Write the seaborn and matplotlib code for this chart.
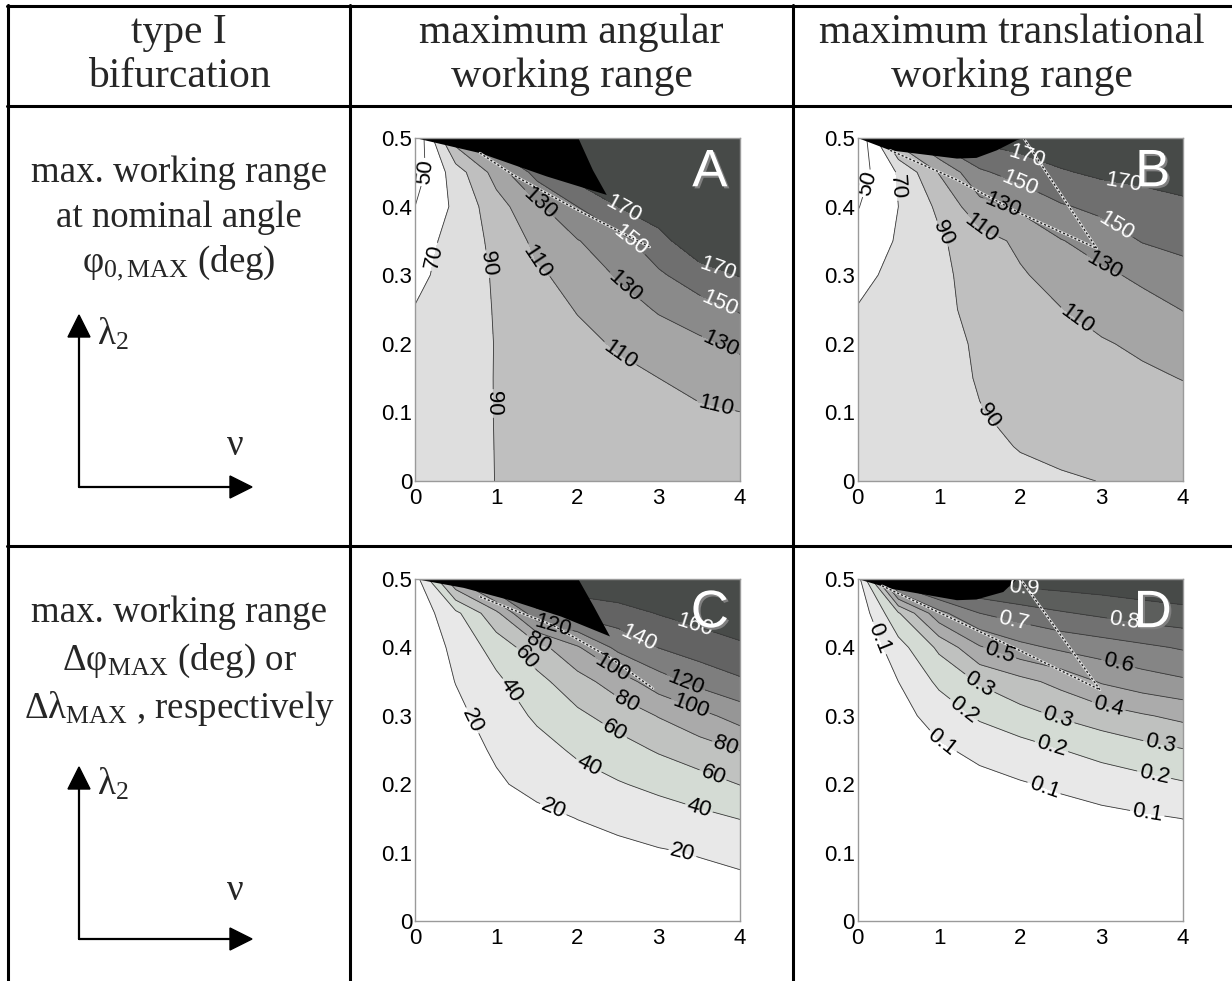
import numpy as np
import matplotlib
matplotlib.use("Agg")
import matplotlib.pyplot as plt
import matplotlib.patheffects as pe
from matplotlib.lines import Line2D
from matplotlib.patches import Polygon
import seaborn as sns

# ---------------- data ----------------
nu = [0, 0.5, 1, 1.5, 2, 2.5, 3, 3.5, 4]
lam2 = [0, 0.05, 0.1, 0.15, 0.2, 0.25, 0.3, 0.35, 0.4, 0.45, 0.5]

# A: max. working range at nominal angle, angular (deg); rows = lam2, cols = nu
phi0_angular = [
    [80, 85.5, 90.2, 93.5, 96, 98, 100, 101.5, 103],
    [79, 85, 90.3, 94, 97, 100, 102, 104, 106],
    [78, 85, 90.4, 95, 99, 102, 105, 107.5, 109.8],
    [76, 84, 90.5, 96, 101, 105, 110, 116, 121],
    [74, 83, 90.5, 98, 105, 112, 119, 126, 134],
    [71, 82, 91, 101, 111, 120, 132, 142, 152],
    [64, 80, 92, 107, 117, 132, 147, 161, 171],
    [57, 80, 94, 115, 129, 143, 163, 185, 190],
    [50, 74, 102, 126, 150, 170, 182, 185, 188],
    [40, 80, 118, 158, 180, 185, 185, 186, 188],
    [30, 120, 170, 190, 190, 190, 190, 190, 190],
]
# B: max. working range at nominal angle, translational (deg)
phi0_translational = [
    [80, 82, 84, 86, 87.5, 88.8, 90.2, 91.5, 93],
    [79, 81, 84, 87.5, 90.5, 92.5, 94.5, 96.5, 98],
    [78, 80, 84, 89.5, 93, 96, 99, 101.5, 104],
    [77, 80, 85, 91, 96, 100, 103.5, 107, 110.5],
    [74, 78, 85, 92, 99, 104, 108.5, 113, 120],
    [71, 76, 85, 96, 104, 109.5, 116, 123, 130.5],
    [64, 76, 85, 99, 108, 117, 126, 134, 140],
    [57, 72, 87, 102, 114, 129, 139, 151, 158],
    [49, 70, 94, 123, 134, 148, 155, 160, 166],
    [40, 72, 111, 147, 158, 168, 174, 177, 179],
    [30, 120, 160, 175, 180, 185, 186, 187, 188],
]
# C: max. angular working range (deg)
dphi_max = [
    [0, 1.2, 2.5, 3.7, 5, 6.2, 7.5, 8.7, 10],
    [0, 2, 4, 6, 8, 10, 12, 14, 16],
    [0, 3, 6, 9, 12, 15, 18.3, 21, 24],
    [0, 5, 10, 15, 20.3, 25, 30, 35, 40.5],
    [0, 8.5, 17.5, 25.5, 32.5, 38.5, 45, 52, 60.5],
    [0.5, 11.5, 22.5, 33, 43, 52, 62, 71, 80.5],
    [1, 15, 29, 43, 56, 68, 81, 94, 108],
    [2, 20.5, 36, 54, 72, 90, 111, 126, 137],
    [4, 25, 48, 72, 98, 125, 140.5, 150, 157],
    [6, 35, 75, 135, 146, 152, 161, 167, 172],
    [10, 100, 150, 170, 175, 178, 180, 182, 185],
]
# D: max. translational working range
dlam_max = [
    [0, 0.002, 0.004, 0.006, 0.008, 0.010, 0.012, 0.014, 0.016],
    [0, 0.003, 0.006, 0.009, 0.012, 0.015, 0.018, 0.021, 0.024],
    [0, 0.006, 0.012, 0.018, 0.024, 0.03, 0.036, 0.042, 0.05],
    [0, 0.012, 0.025, 0.037, 0.05, 0.062, 0.075, 0.087, 0.101],
    [0, 0.02, 0.045, 0.07, 0.092, 0.115, 0.14, 0.165, 0.19],
    [0, 0.04, 0.085, 0.125, 0.16, 0.198, 0.235, 0.265, 0.295],
    [0, 0.065, 0.14, 0.215, 0.265, 0.31, 0.35, 0.39, 0.425],
    [0, 0.1, 0.22, 0.31, 0.37, 0.43, 0.51, 0.555, 0.585],
    [0, 0.16, 0.32, 0.49, 0.57, 0.62, 0.65, 0.68, 0.71],
    [0.02, 0.29, 0.57, 0.7, 0.75, 0.79, 0.82, 0.85, 0.87],
    [0.05, 0.8, 0.9, 0.93, 0.95, 0.96, 0.97, 0.98, 0.99],
]

levels_phi0 = [50, 70, 90, 110, 130, 150, 170]
levels_dphi = [20, 40, 60, 80, 100, 120, 140, 160]
levels_dlam = [0.1, 0.2, 0.3, 0.4, 0.5, 0.6, 0.7, 0.8, 0.9]

# invalid (no solution) regions, drawn black
invalid_A_nu = [0, 0.8, 1.62, 2.36, 2.19, 2.01]
invalid_A_lam = [0.5, 0.478, 0.444, 0.417, 0.453, 0.5]
invalid_B_nu = [0, 0.4, 1.22, 1.46, 1.71, 1.96, 2.04]
invalid_B_lam = [0.5, 0.482, 0.47, 0.471, 0.482, 0.497, 0.5]
invalid_C_nu = [0, 0.6, 1.2, 1.8, 2.4, 2.2, 2.01]
invalid_C_lam = [0.5, 0.487, 0.468, 0.445, 0.416, 0.46, 0.5]
invalid_D_nu = [0, 0.4, 1.22, 1.46, 1.79, 1.96]
invalid_D_lam = [0.5, 0.486, 0.469, 0.47, 0.481, 0.5]

# bifurcation artefact traces
trace_A_nu = [0.8, 1.21, 2.0, 2.89]
trace_A_lam = [0.478, 0.446, 0.395, 0.341]
trace_B_nu = [0.4, 1.2, 2.0, 2.94, 2.04]
trace_B_lam = [0.482, 0.44, 0.39, 0.339, 0.5]
trace_C_nu = [0.8, 1.7, 2.4, 2.93]
trace_C_lam = [0.474, 0.432, 0.385, 0.34]
trace_D_nu = [0.3, 1.2, 2.0, 2.98, 2.0]
trace_D_lam = [0.49, 0.44, 0.395, 0.338, 0.5]

x_ticks = [0, 1, 2, 3, 4]
x_tick_labels = ["0", "1", "2", "3", "4"]
y_ticks = [0, 0.1, 0.2, 0.3, 0.4, 0.5]
y_tick_labels = ["0", "0.1", "0.2", "0.3", "0.4", "0.5"]

header_texts = [["type I", "bifurcation"],
                ["maximum angular", "working range"],
                ["maximum translational", "working range"]]
row1_texts = ["max. working range", "at nominal angle",
              r"$\varphi_{0,\mathrm{MAX}}$ (deg)"]
row2_texts = ["max. working range", r"$\Delta\varphi_{\mathrm{MAX}}$ (deg) or",
              r"$\Delta\lambda_{\mathrm{MAX}}$ , respectively"]
panel_letters = ["A", "B", "C", "D"]

# ---------------- style ----------------
sns.set_theme(style="white")
plt.rcParams["font.family"] = ["Liberation Sans", "DejaVu Sans"]
plt.rcParams["mathtext.fontset"] = "custom"
plt.rcParams["mathtext.rm"] = "Liberation Serif"
plt.rcParams["mathtext.it"] = "Liberation Serif"
plt.rcParams["mathtext.bf"] = "Liberation Serif:bold"
plt.rcParams["mathtext.default"] = "regular"

W, H = 1232, 981
fig = plt.figure(figsize=(W / 100, H / 100), dpi=100)
fig.patch.set_facecolor("white")


def fx(x):
    return x / W


def fy(y):
    return 1 - y / H


# ---------------- table frame ----------------
LW = 2.2
for y in (5.5, 106, 545.5):
    fig.add_artist(Line2D([fx(7), fx(1232)], [fy(y), fy(y)], color="black", lw=LW))
for x in (8, 350, 793):
    fig.add_artist(Line2D([fx(x), fx(x)], [fy(4.5), fy(981)], color="black", lw=LW))

serif = ["Liberation Serif", "DejaVu Serif"]
FS = 26.6
FS_HEAD = 30
col_centers = [179, 571.5, 1012]
for cx, (l1, l2) in zip(col_centers, header_texts):
    fig.text(fx(cx), fy(43), l1, ha="center", va="baseline", fontsize=FS_HEAD, family=serif)
    fig.text(fx(cx), fy(87), l2, ha="center", va="baseline", fontsize=FS_HEAD, family=serif)

for txt, yb in zip(row1_texts, (182, 227, 272)):
    fig.text(fx(179), fy(yb), txt, ha="center", va="baseline", fontsize=FS, family=serif)
for txt, yb in zip(row2_texts, (622, 670, 718)):
    fig.text(fx(179), fy(yb), txt, ha="center", va="baseline", fontsize=FS, family=serif)


def axis_arrows(y_top, y_bot, lam_base, nu_base):
    x0, x1 = 79, 252
    hl, hw = 22, 11
    fig.add_artist(Line2D([fx(x0), fx(x0)], [fy(y_bot), fy(y_top + hl - 2)], color="black", lw=1.6))
    fig.add_artist(Line2D([fx(x0), fx(x1 - hl + 2)], [fy(y_bot), fy(y_bot)], color="black", lw=1.6))
    fig.add_artist(Polygon([[fx(x0), fy(y_top)], [fx(x0 - hw), fy(y_top + hl)], [fx(x0 + hw), fy(y_top + hl)]],
                           closed=True, color="black", transform=fig.transFigure))
    fig.add_artist(Polygon([[fx(x1), fy(y_bot)], [fx(x1 - hl), fy(y_bot - hw)], [fx(x1 - hl), fy(y_bot + hw)]],
                           closed=True, color="black", transform=fig.transFigure))
    fig.text(fx(97), fy(lam_base), r"$\lambda_2$", ha="left", va="baseline", fontsize=FS, family=serif)
    fig.text(fx(226), fy(nu_base), r"$\nu$", ha="left", va="baseline", fontsize=FS, family=serif)


axis_arrows(315, 487, 345, 455)
axis_arrows(767, 939, 795, 900)

# ---------------- contour panels ----------------
fill_phi0 = ["#ffffff", "#ffffff", "#dedede", "#bfbfbf", "#a5a5a5", "#8a8a8a", "#6f6f6f", "#474a48"]
fill_dphi = ["#ffffff", "#e8e8e8", "#d4dbd4", "#c0c2c0", "#aaaaaa", "#969696", "#7e7e7e", "#636363", "#484b49"]
fill_dlam = ["#ffffff", "#e8e8e8", "#d4dbd4", "#bfc1bf", "#ababab", "#989898", "#858585", "#717171", "#5c5e5c",
             "#474a48"]

panels = [
    dict(Z=phi0_angular, lv=levels_phi0, fills=fill_phi0, lo=-1e3, hi=1e3, box=(415, 138, 740, 481),
         inv=(invalid_A_nu, invalid_A_lam), tr=(trace_A_nu, trace_A_lam), fmt="%d", white=150,
         labels=[(0.16, 0.449), (0.23, 0.327), (0.92, 0.317), (0.98, 0.113), (1.54, 0.405), (1.54, 0.322),
                 (2.52, 0.385), (2.62, 0.345), (2.58, 0.283), (2.5, 0.181), (3.71, 0.305), (3.75, 0.259),
                 (3.75, 0.196), (3.71, 0.113)]),
    dict(Z=phi0_translational, lv=levels_phi0, fills=fill_phi0, lo=-1e3, hi=1e3, box=(857.7, 138, 1183, 481),
         inv=(invalid_B_nu, invalid_B_lam), tr=(trace_B_nu, trace_B_lam), fmt="%d", white=150,
         labels=[(0.11, 0.434), (0.44, 0.429), (1.05, 0.361), (1.55, 0.376), (1.79, 0.405), (2.0, 0.436),
                 (2.08, 0.473), (3.27, 0.439), (3.2, 0.376), (3.02, 0.312), (2.69, 0.235), (1.59, 0.094)]),
    dict(Z=dphi_max, lv=levels_dphi, fills=fill_dphi, lo=-1e3, hi=1e3, box=(415, 579, 740, 921),
         inv=(invalid_C_nu, invalid_C_lam), tr=(trace_C_nu, trace_C_lam), fmt="%d", white=140,
         labels=[(0.72, 0.294), (1.15, 0.335), (1.33, 0.381), (1.5, 0.401), (1.7, 0.435), (2.75, 0.412),
                 (2.44, 0.372), (2.6, 0.32), (2.46, 0.279), (2.15, 0.23), (1.7, 0.163), (3.32, 0.345),
                 (3.38, 0.311), (3.82, 0.255), (3.67, 0.214), (3.49, 0.163), (3.28, 0.092), (3.43, 0.428)]),
    dict(Z=dlam_max, lv=levels_dlam, fills=fill_dlam, lo=-1.0, hi=2.0, box=(857.7, 579, 1183, 921),
         inv=(invalid_D_nu, invalid_D_lam), tr=(trace_D_nu, trace_D_lam), fmt="%.1f", white=0.7,
         labels=[(0.21, 0.411), (1.5, 0.347), (1.3, 0.308), (1.03, 0.26), (1.75, 0.394), (1.91, 0.435),
                 (2.04, 0.476), (2.45, 0.294), (2.37, 0.25), (2.28, 0.191), (3.08, 0.311), (3.2, 0.374),
                 (3.27, 0.433), (3.72, 0.258), (3.64, 0.211), (3.56, 0.157)]),
]

for letter, p in zip(panel_letters, panels):
    l, t, r, b = p["box"]
    ax = fig.add_axes([fx(l), fy(b), (r - l) / W, (b - t) / H])
    Z = np.array(p["Z"], dtype=float)
    bounds = [p["lo"]] + list(p["lv"]) + [p["hi"]]
    ax.contourf(nu, lam2, Z, levels=bounds, colors=p["fills"], zorder=1)
    cs = ax.contour(nu, lam2, Z, levels=p["lv"], colors="#383838", linewidths=0.6, zorder=2)
    ax.fill(p["inv"][0], p["inv"][1], color="black", lw=0, zorder=2.5)
    ax.plot(p["tr"][0], p["tr"][1], color="#e0e0e0", lw=1.8, zorder=2.6)
    ax.plot(p["tr"][0], p["tr"][1], color="#202020", lw=1.0, ls=(0, (1.5, 1.5)), zorder=2.7)
    texts = ax.clabel(cs, p["lv"], manual=p["labels"], fmt=p["fmt"], fontsize=16, inline=True,
                      inline_spacing=2)
    for tx in texts:
        try:
            v = float(tx.get_text())
        except ValueError:
            continue
        tx.set_color("white" if v >= p["white"] - 1e-9 else "black")
        tx.set_zorder(4)
    ax.set_xlim(0, 4)
    ax.set_ylim(0, 0.5)
    ax.set_xticks(x_ticks)
    ax.set_xticklabels(x_tick_labels)
    ax.set_yticks(y_ticks)
    ax.set_yticklabels(y_tick_labels)
    ax.tick_params(axis="both", length=0, labelsize=16, colors="black")
    ax.tick_params(axis="x", pad=5)
    ax.tick_params(axis="y", pad=2)
    for s in ax.spines.values():
        s.set_color("#9a9a9a")
        s.set_linewidth(1.0)
        s.set_zorder(5)
    ax.text(0.907, 0.9, letter, transform=ax.transAxes, ha="center", va="center", fontsize=38,
            color="white", zorder=6,
            path_effects=[pe.withSimplePatchShadow(offset=(1.5, -1.5), shadow_rgbFace="#808080", alpha=1.0)])

fig.savefig("out.png", dpi=100, facecolor="white")
